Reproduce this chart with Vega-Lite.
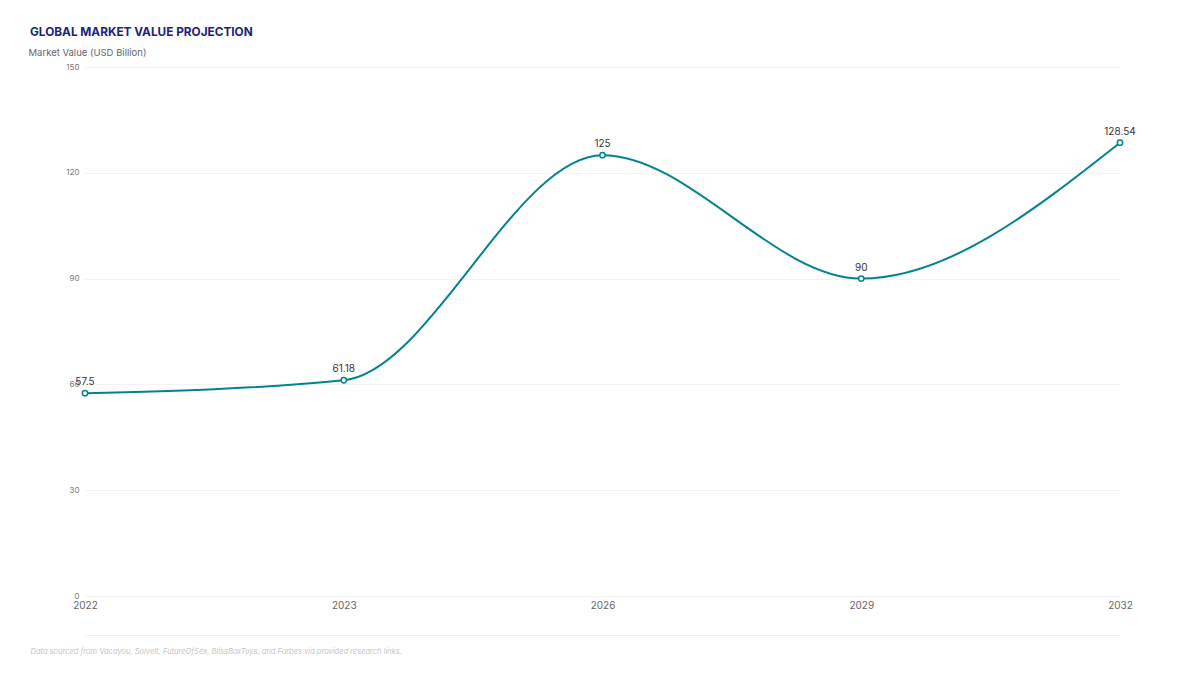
{
  "$schema": "https://vega.github.io/schema/vega-lite/v6.json",
  "autosize": "none",
  "width": 1035,
  "height": 529,
  "padding": {"left": 85, "top": 67, "right": 80, "bottom": 79},
  "background": "white",
  "config": {
    "font": "Inter",
    "view": {"stroke": null}
  },
  "title": {
    "text": "GLOBAL MARKET VALUE PROJECTION",
    "anchor": "start",
    "frame": "group",
    "dx": -55,
    "fontSize": 11.8,
    "fontWeight": "bold",
    "color": "#1a237e",
    "offset": 8
  },
  "data": {
    "values": [
      {"year": "2022", "value": 57.5},
      {"year": "2023", "value": 61.18},
      {"year": "2026", "value": 125},
      {"year": "2029", "value": 90},
      {"year": "2032", "value": 128.54}
    ]
  },
  "encoding": {
    "x": {
      "field": "year",
      "type": "ordinal",
      "scale": {"type": "point", "padding": 0},
      "axis": {
        "title": "Data sourced from Vacayou, SolveIt, FutureOfSex, BlissBoxToys, and Forbes via provided research links.",
        "titleFontSize": 7.5,
        "titleFontStyle": "italic",
        "titleFontWeight": "normal",
        "titleColor": "#c4c4c4",
        "titleAnchor": "start",
        "titleAlign": "left",
        "titleBaseline": "middle",
        "titleX": -55,
        "titleY": 16,
        "labelAngle": 0,
        "labelFontSize": 10,
        "labelColor": "#666666",
        "labelPadding": -35,
        "ticks": false,
        "grid": false,
        "offset": 39,
        "domain": true,
        "domainColor": "#eeeeee",
        "domainWidth": 1
      }
    },
    "y": {
      "field": "value",
      "type": "quantitative",
      "scale": {"domain": [0, 150]},
      "axis": {
        "title": "Market Value (USD Billion)",
        "titleAngle": 0,
        "titleAlign": "left",
        "titleBaseline": "middle",
        "titleX": -57,
        "titleY": -15,
        "titleFontSize": 9.5,
        "titleFontWeight": "normal",
        "titleColor": "#666666",
        "values": [0, 30, 60, 90, 120, 150],
        "labelFontSize": 8,
        "labelColor": "#777777",
        "labelPadding": 6,
        "ticks": false,
        "domain": false,
        "gridColor": "#f2f2f2",
        "gridWidth": 1
      }
    }
  },
  "layer": [
    {
      "mark": {"type": "line", "interpolate": "monotone", "color": "#00838f", "strokeWidth": 2}
    },
    {
      "mark": {"type": "point", "filled": true, "fill": "white", "stroke": "#00838f", "strokeWidth": 1.5, "size": 28, "opacity": 1}
    },
    {
      "mark": {"type": "text", "dy": -11, "fontSize": 10, "color": "#333333"},
      "encoding": {"text": {"field": "value", "type": "quantitative"}}
    }
  ]
}
